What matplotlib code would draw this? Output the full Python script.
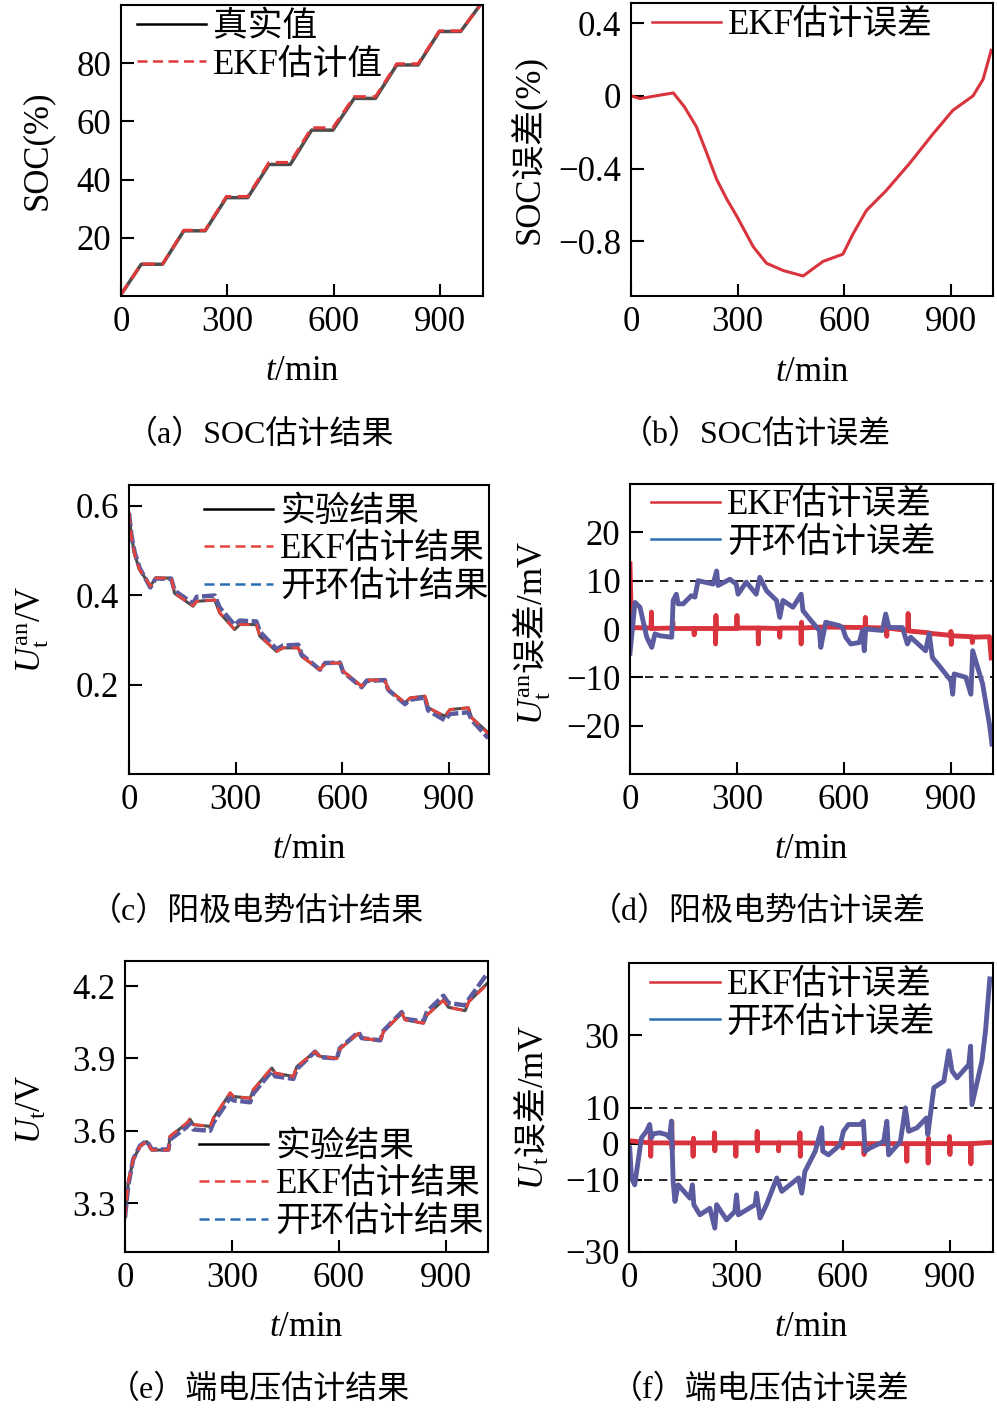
import matplotlib
matplotlib.use('Agg')
from matplotlib import pyplot as plt
from matplotlib.lines import Line2D

# ---------------- data ----------------
x_ticks = [0, 300, 600, 900]

# (a) SOC, true value and EKF estimate (%)
soc_t = [0, 57, 117, 177, 237, 297, 357, 417, 477, 537, 597, 657, 717, 777, 837, 897, 957, 1012]
soc_true = [0.5, 10.9, 10.9, 22.4, 22.4, 33.8, 33.8, 45.2, 45.2, 57.0, 57.0, 67.9, 67.9, 79.4, 79.4,
            90.9, 90.9, 100.0]
soc_ekf = [0.5, 11.0, 11.0, 22.6, 22.6, 34.2, 34.2, 45.9, 45.9, 57.8, 57.8, 68.5, 68.5, 79.8, 79.8,
           91.1, 91.1, 99.8]

# (b) SOC estimation error (%)
soc_err_t = [0, 25, 119, 150, 184, 212, 241, 270, 297, 344, 381, 428, 484, 540, 596, 624, 662, 718,
             784, 849, 905, 962, 990, 1013]
soc_err = [0, -0.015, 0.016, -0.06, -0.17, -0.31, -0.46, -0.57, -0.66, -0.83, -0.92, -0.96, -0.99,
           -0.91, -0.87, -0.76, -0.63, -0.52, -0.37, -0.21, -0.08, 0.0, 0.09, 0.25]

# (c) anode potential (V)
an_t = [0, 7, 16, 30, 49, 60, 75, 119, 128, 180, 190, 241, 255, 297, 311, 358, 368, 415, 433, 476,
        485, 537, 551, 593, 602, 654, 668, 719, 729, 776, 790, 832, 841, 888, 902, 954, 963, 1010]
an_exp = [0.583, 0.531, 0.49, 0.456, 0.434, 0.42, 0.438, 0.438, 0.404, 0.375, 0.386, 0.389, 0.36,
          0.323, 0.334, 0.334, 0.308, 0.274, 0.282, 0.282, 0.263, 0.233, 0.248, 0.248, 0.23, 0.196,
          0.21, 0.21, 0.189, 0.159, 0.17, 0.174, 0.148, 0.129, 0.144, 0.148, 0.126, 0.092]
an_ekf = [0.583, 0.53, 0.49, 0.456, 0.434, 0.42, 0.438, 0.438, 0.404, 0.376, 0.386, 0.389, 0.36,
          0.323, 0.334, 0.334, 0.308, 0.274, 0.282, 0.282, 0.263, 0.233, 0.248, 0.248, 0.23, 0.196,
          0.21, 0.21, 0.189, 0.159, 0.17, 0.174, 0.148, 0.129, 0.144, 0.148, 0.126, 0.09]
an_ol = [0.583, 0.533, 0.495, 0.46, 0.433, 0.417, 0.437, 0.436, 0.41, 0.381, 0.396, 0.399, 0.372,
         0.333, 0.343, 0.341, 0.318, 0.279, 0.287, 0.289, 0.267, 0.233, 0.248, 0.249, 0.228, 0.194,
         0.208, 0.21, 0.188, 0.156, 0.166, 0.171, 0.142, 0.12, 0.134, 0.138, 0.121, 0.08]

# (d) anode potential error (mV)
an_ekf_err_t = [0, 4, 59, 60, 61, 119, 120, 121, 179, 180, 181, 239, 240, 241, 242, 299, 300, 301,
                359, 360, 361, 419, 420, 421, 479, 480, 481, 482, 540, 659, 660, 661, 719, 720, 721,
                779, 780, 781, 839, 840, 841, 899, 900, 901, 902, 959, 960, 961, 1008, 1013]
an_ekf_err = [13.5, 0.3, 0.2, 3.5, 0.1, 0.2, 1.5, 0.1, 0.1, -1.2, 0.1, 0.1, -3.1, 2.8, 0.1, 0.1,
              2.8, 0.2, 0.2, -3.1, 0.2, 0.1, -1.7, 0.2, 0.2, -3.1, 1.4, 0.2, 0.4, 0.3, 2.4, 0.3,
              0.2, -1.5, 0.2, -0.3, 3.2, -0.4, -0.8, -2.8, -0.9, -1.3, -0.5, -3.2, -1.4, -1.6,
              -2.8, -1.7, -1.6, -6.0]
an_ol_err_t = [0, 14, 28, 47, 61, 70, 84, 117, 121, 130, 135, 149, 172, 182, 191, 233, 243, 247,
               280, 298, 303, 326, 354, 364, 383, 411, 420, 429, 457, 480, 485, 508, 531, 535, 549,
               587, 596, 605, 619, 643, 652, 657, 661, 708, 717, 726, 764, 778, 787, 829, 839, 848,
               867, 900, 905, 909, 942, 956, 961, 989, 1008, 1015]
an_ol_err = [-5.0, 5.5, 4.5, -1.7, -3.8, -1.0, -1.4, -1.7, 5.9, 7.2, 5.2, 5.2, 6.9, 6.6, 10.0, 9.3,
             12.0, 9.0, 10.3, 9.3, 7.2, 9.7, 7.2, 10.7, 7.9, 5.9, 2.4, 5.9, 4.5, 7.2, 3.8, 1.7,
             -0.3, -3.8, 1.4, 0.7, 0.3, -1.7, -3.1, -2.8, -0.3, -4.5, 0.0, -0.3, 3.1, 0.3, 0.3,
             -3.1, -1.7, -4.5, -1.0, -5.9, -7.6, -10.7, -13.5, -9.3, -10.0, -13.5, -4.5, -11.4,
             -19.7, -23.8]

# (e) terminal voltage (V)
ut_t = [0, 9, 23, 42, 61, 75, 122, 126, 173, 182, 192, 239, 248, 295, 304, 351, 360, 412, 421, 472,
        482, 533, 547, 594, 603, 655, 664, 716, 725, 776, 786, 837, 847, 893, 907, 954, 964, 1015]
ut_exp = [3.24, 3.383, 3.48, 3.535, 3.555, 3.52, 3.52, 3.576, 3.63, 3.648, 3.625, 3.618, 3.652,
          3.756, 3.742, 3.735, 3.77, 3.86, 3.839, 3.825, 3.866, 3.928, 3.908, 3.9, 3.94, 4.004,
          3.984, 3.974, 4.011, 4.087, 4.06, 4.046, 4.08, 4.142, 4.112, 4.098, 4.135, 4.21]
ut_ekf = [3.24, 3.385, 3.48, 3.535, 3.556, 3.52, 3.52, 3.577, 3.632, 3.648, 3.626, 3.618, 3.653,
          3.758, 3.742, 3.735, 3.771, 3.862, 3.839, 3.825, 3.866, 3.928, 3.908, 3.9, 3.94, 4.004,
          3.984, 3.974, 4.011, 4.087, 4.06, 4.046, 4.08, 4.14, 4.112, 4.098, 4.135, 4.205]
ut_ol = [3.24, 3.373, 3.482, 3.538, 3.558, 3.523, 3.522, 3.563, 3.615, 3.633, 3.605, 3.6, 3.633,
         3.737, 3.726, 3.718, 3.755, 3.848, 3.826, 3.815, 3.856, 3.928, 3.905, 3.9, 3.943, 4.009,
         3.984, 3.975, 4.015, 4.092, 4.064, 4.053, 4.095, 4.16, 4.13, 4.12, 4.145, 4.25]

# (f) terminal voltage error (mV)
ut_ekf_err_t = [0, 59, 60, 61, 62, 119, 120, 121, 122, 179, 180, 181, 182, 239, 240, 241, 242, 299,
                300, 301, 359, 360, 361, 362, 419, 420, 421, 479, 480, 481, 482, 599, 600, 601, 659,
                660, 661, 779, 780, 781, 839, 840, 841, 842, 899, 900, 901, 902, 959, 960, 961, 1012]
ut_ekf_err = [0.8, 0.2, 3.0, -3.5, 0.2, 0.2, 6.2, -1.5, 0.2, 0.2, -3.5, 1.5, 0.2, 0.2, 3.0, -2.0,
              0.2, 0.2, -3.5, 0.2, 0.2, 3.4, -2.0, 0.2, 0.2, -2.0, 0.2, 0.2, 3.0, -3.5, 0.2, 0.0,
              -1.2, 0.0, 0.0, -3.0, 0.0, 0.0, -4.9, 0.0, 0.0, -5.4, 1.5, 0.0, 0.0, 2.0, -3.0, 0.0,
              0.0, -5.6, 0.0, 0.3]
ut_ol_err_t = [2, 7, 16, 35, 49, 58, 63, 68, 86, 105, 114, 119, 124, 129, 138, 171, 178, 182, 199,
               227, 241, 246, 274, 297, 302, 307, 354, 358, 368, 386, 415, 429, 452, 476, 485, 494,
               523, 541, 544, 560, 593, 602, 616, 649, 658, 663, 677, 715, 724, 729, 762, 776, 785,
               809, 835, 839, 856, 884, 898, 907, 921, 954, 959, 963, 991, 1001, 1013]
ut_ol_err = [-1.2, -9.5, -11.4, 1.6, 3.4, 5.3, 1.6, 2.7, 3.0, 2.5, 1.6, 6.2, -10.5, -16.0, -11.4,
             -15.1, -11.4, -16.9, -19.7, -17.9, -23.4, -16.9, -21.1, -18.8, -14.2, -19.7, -16.9,
             -13.7, -20.6, -16.9, -9.5, -13.2, -11.4, -9.5, -13.7, -7.7, -2.1, 4.4, -2.1, -3.1,
             -0.3, 3.4, 5.3, 5.3, 6.2, -2.1, -1.2, 0.6, 6.2, -3.1, 0.6, 9.9, 3.4, 4.4, 7.1, 2.5,
             15.5, 17.3, 25.7, 20.1, 18.2, 21.9, 27.0, 10.8, 22.9, 31.2, 45.6]

# ---------------- style ----------------
plt.rcParams['font.family'] = ['Liberation Serif', 'Noto Sans CJK SC']
plt.rcParams['mathtext.fontset'] = 'custom'
plt.rcParams['mathtext.rm'] = 'Liberation Serif'
plt.rcParams['mathtext.it'] = 'Liberation Serif:italic'
plt.rcParams['font.size'] = 25

W, H = 997, 1413
RED = '#d9333d'
PURPLE = '#5b5ba0'
BLUE = '#2a6db2'
GREY = '#4d4d4d'
FS = 25
DASH = (0, (4, 2.2))


def add_axes_px(fig, left, top, right, bottom):
    # axes box given in pixels of the 997x1413 picture
    return fig.add_axes([left / W, 1 - bottom / H, (right - left) / W, (bottom - top) / H])


def style_axes(ax, xmax, ylim, yticks, yticklabels=None):
    ax.set_xlim(0, xmax)
    ax.set_ylim(*ylim)
    ax.set_xticks(x_ticks)
    ax.set_yticks(yticks)
    if yticklabels is not None:
        ax.set_yticklabels(yticklabels)
    ax.tick_params(direction='in', length=9, width=1.5, pad=7, labelsize=FS)
    for s in ax.spines.values():
        s.set_linewidth(1.5)
    ax.set_xlabel(r'$t\mathrm{/min}$', fontsize=FS, va='center')
    ax.xaxis.set_label_coords(0.5, -0.26)


def set_ylab(ax, text, xpos, ypos=0.5, cjk_math=False):
    if cjk_math:
        ax.set_ylabel(text, fontsize=FS, va='center', family='Noto Sans CJK SC')
    else:
        ax.set_ylabel(text, fontsize=FS, va='center')
    ax.yaxis.set_label_coords(xpos, ypos)


def add_legend(ax, handles, labels, x, y):
    ax.legend(handles, labels, loc='upper left', bbox_to_anchor=(x, y), frameon=False,
              fontsize=FS, borderpad=0, borderaxespad=0, handlelength=2.0, handletextpad=0.2,
              labelspacing=0.13)


fig = plt.figure(figsize=(W / 100, H / 100), dpi=100)

# (a)
ax = add_axes_px(fig, 121, 5, 483, 296)
ax.plot(soc_t, soc_true, color=GREY, lw=2.5)
ax.plot(soc_t, soc_ekf, color='#e23a3a', lw=2.2, ls=DASH)
style_axes(ax, 1020, (0, 100), [20, 40, 60, 80])
set_ylab(ax, 'SOC(%)', -0.23)
add_legend(ax, [Line2D([], [], color='k', lw=1.8), Line2D([], [], color='#e23a3a', lw=1.8, ls=DASH)],
           ['真实值', 'EKF估计值'], 0.044, 0.979)

# (b)
ax = add_axes_px(fig, 631, 3, 993, 296)
ax.plot(soc_err_t, soc_err, color=RED, lw=2.2)
style_axes(ax, 1018, (-1.1, 0.51), [-0.8, -0.4, 0, 0.4], ['\u22120.8', '\u22120.4', '0', '0.4'])
set_ylab(ax, 'SOC误差(%)', -0.287)
add_legend(ax, [Line2D([], [], color=RED, lw=1.8)], ['EKF估计误差'], 0.058, 0.98)

# (c)
ax = add_axes_px(fig, 129, 485, 489, 774)
ax.plot(an_t, an_exp, color=GREY, lw=2.2)
ax.plot(an_t, an_ol, color=PURPLE, lw=3.2, ls=(0, (3, 0.8)))
ax.plot(an_t, an_ekf, color='#e5443c', lw=2.0, ls=DASH)
style_axes(ax, 1012, (0, 0.646), [0.2, 0.4, 0.6])
set_ylab(ax, r'$U_\mathrm{t}^\mathrm{an}\mathrm{/V}$', -0.267)
legend_handles = [Line2D([], [], color='k', lw=1.8),
                  Line2D([], [], color='#e5443c', lw=1.8, ls=DASH),
                  Line2D([], [], color=BLUE, lw=1.8, ls=DASH)]
add_legend(ax, legend_handles, ['实验结果', 'EKF估计结果', '开环估计结果'], 0.208, 0.963)

# (d)
ax = add_axes_px(fig, 630, 484, 993, 774)
ax.axhline(10, color='k', lw=1.2, ls=(0, (5, 4)))
ax.axhline(-10, color='k', lw=1.2, ls=(0, (5, 4)))
ax.plot(an_ekf_err_t, an_ekf_err, color=RED, lw=3.5)
ax.plot(an_ol_err_t, an_ol_err, color=PURPLE, lw=3.5)
style_axes(ax, 1018, (-30, 30), [-20, -10, 0, 10, 20])
set_ylab(ax, r'$U_\mathrm{t}^\mathrm{an}$误差$\mathrm{/mV}$', -0.27, 0.486, cjk_math=True)
add_legend(ax, [Line2D([], [], color=RED, lw=1.8), Line2D([], [], color=BLUE, lw=1.8)],
           ['EKF估计误差', '开环估计误差'], 0.057, 0.983)

# (e)
ax = add_axes_px(fig, 125, 961, 488, 1252)
ax.plot(ut_t, ut_exp, color=GREY, lw=2.2)
ax.plot(ut_t, ut_ol, color=PURPLE, lw=3.2, ls=(0, (3, 0.8)))
ax.plot(ut_t, ut_ekf, color='#e5443c', lw=2.0, ls=DASH)
style_axes(ax, 1018, (3.097, 4.304), [3.3, 3.6, 3.9, 4.2])
set_ylab(ax, r'$U_\mathrm{t}\mathrm{/V}$', -0.256, 0.49)
add_legend(ax, legend_handles, ['实验结果', 'EKF估计结果', '开环估计结果'], 0.204, 0.417)

# (f)
ax = add_axes_px(fig, 629, 963, 993, 1252)
ax.axhline(10, color='k', lw=1.2, ls=(0, (5, 4)))
ax.axhline(-10, color='k', lw=1.2, ls=(0, (5, 4)))
ax.plot(ut_ekf_err_t, ut_ekf_err, color=RED, lw=3.5)
ax.plot(ut_ol_err_t, ut_ol_err, color=PURPLE, lw=3.5)
style_axes(ax, 1022, (-30, 50), [-30, -10, 0, 10, 30])
set_ylab(ax, r'$U_\mathrm{t}$误差$\mathrm{/mV}$', -0.266, 0.5, cjk_math=True)
add_legend(ax, [Line2D([], [], color=RED, lw=1.8), Line2D([], [], color=BLUE, lw=1.8)],
           ['EKF估计误差', '开环估计误差'], 0.058, 0.979)

# captions under each panel
captions = ['（a）SOC估计结果', '（b）SOC估计误差', '（c）阳极电势估计结果',
            '（d）阳极电势估计误差', '（e）端电压估计结果', '（f）端电压估计误差']
cap_x = [260, 756, 257, 758, 259, 760]
cap_y = [435, 435, 912, 912, 1390, 1390]
for text, cx, cy in zip(captions, cap_x, cap_y):
    fig.text(cx / W, 1 - cy / H, text, ha='center', va='center', fontsize=23)

fig.savefig('out.png', dpi=100)
